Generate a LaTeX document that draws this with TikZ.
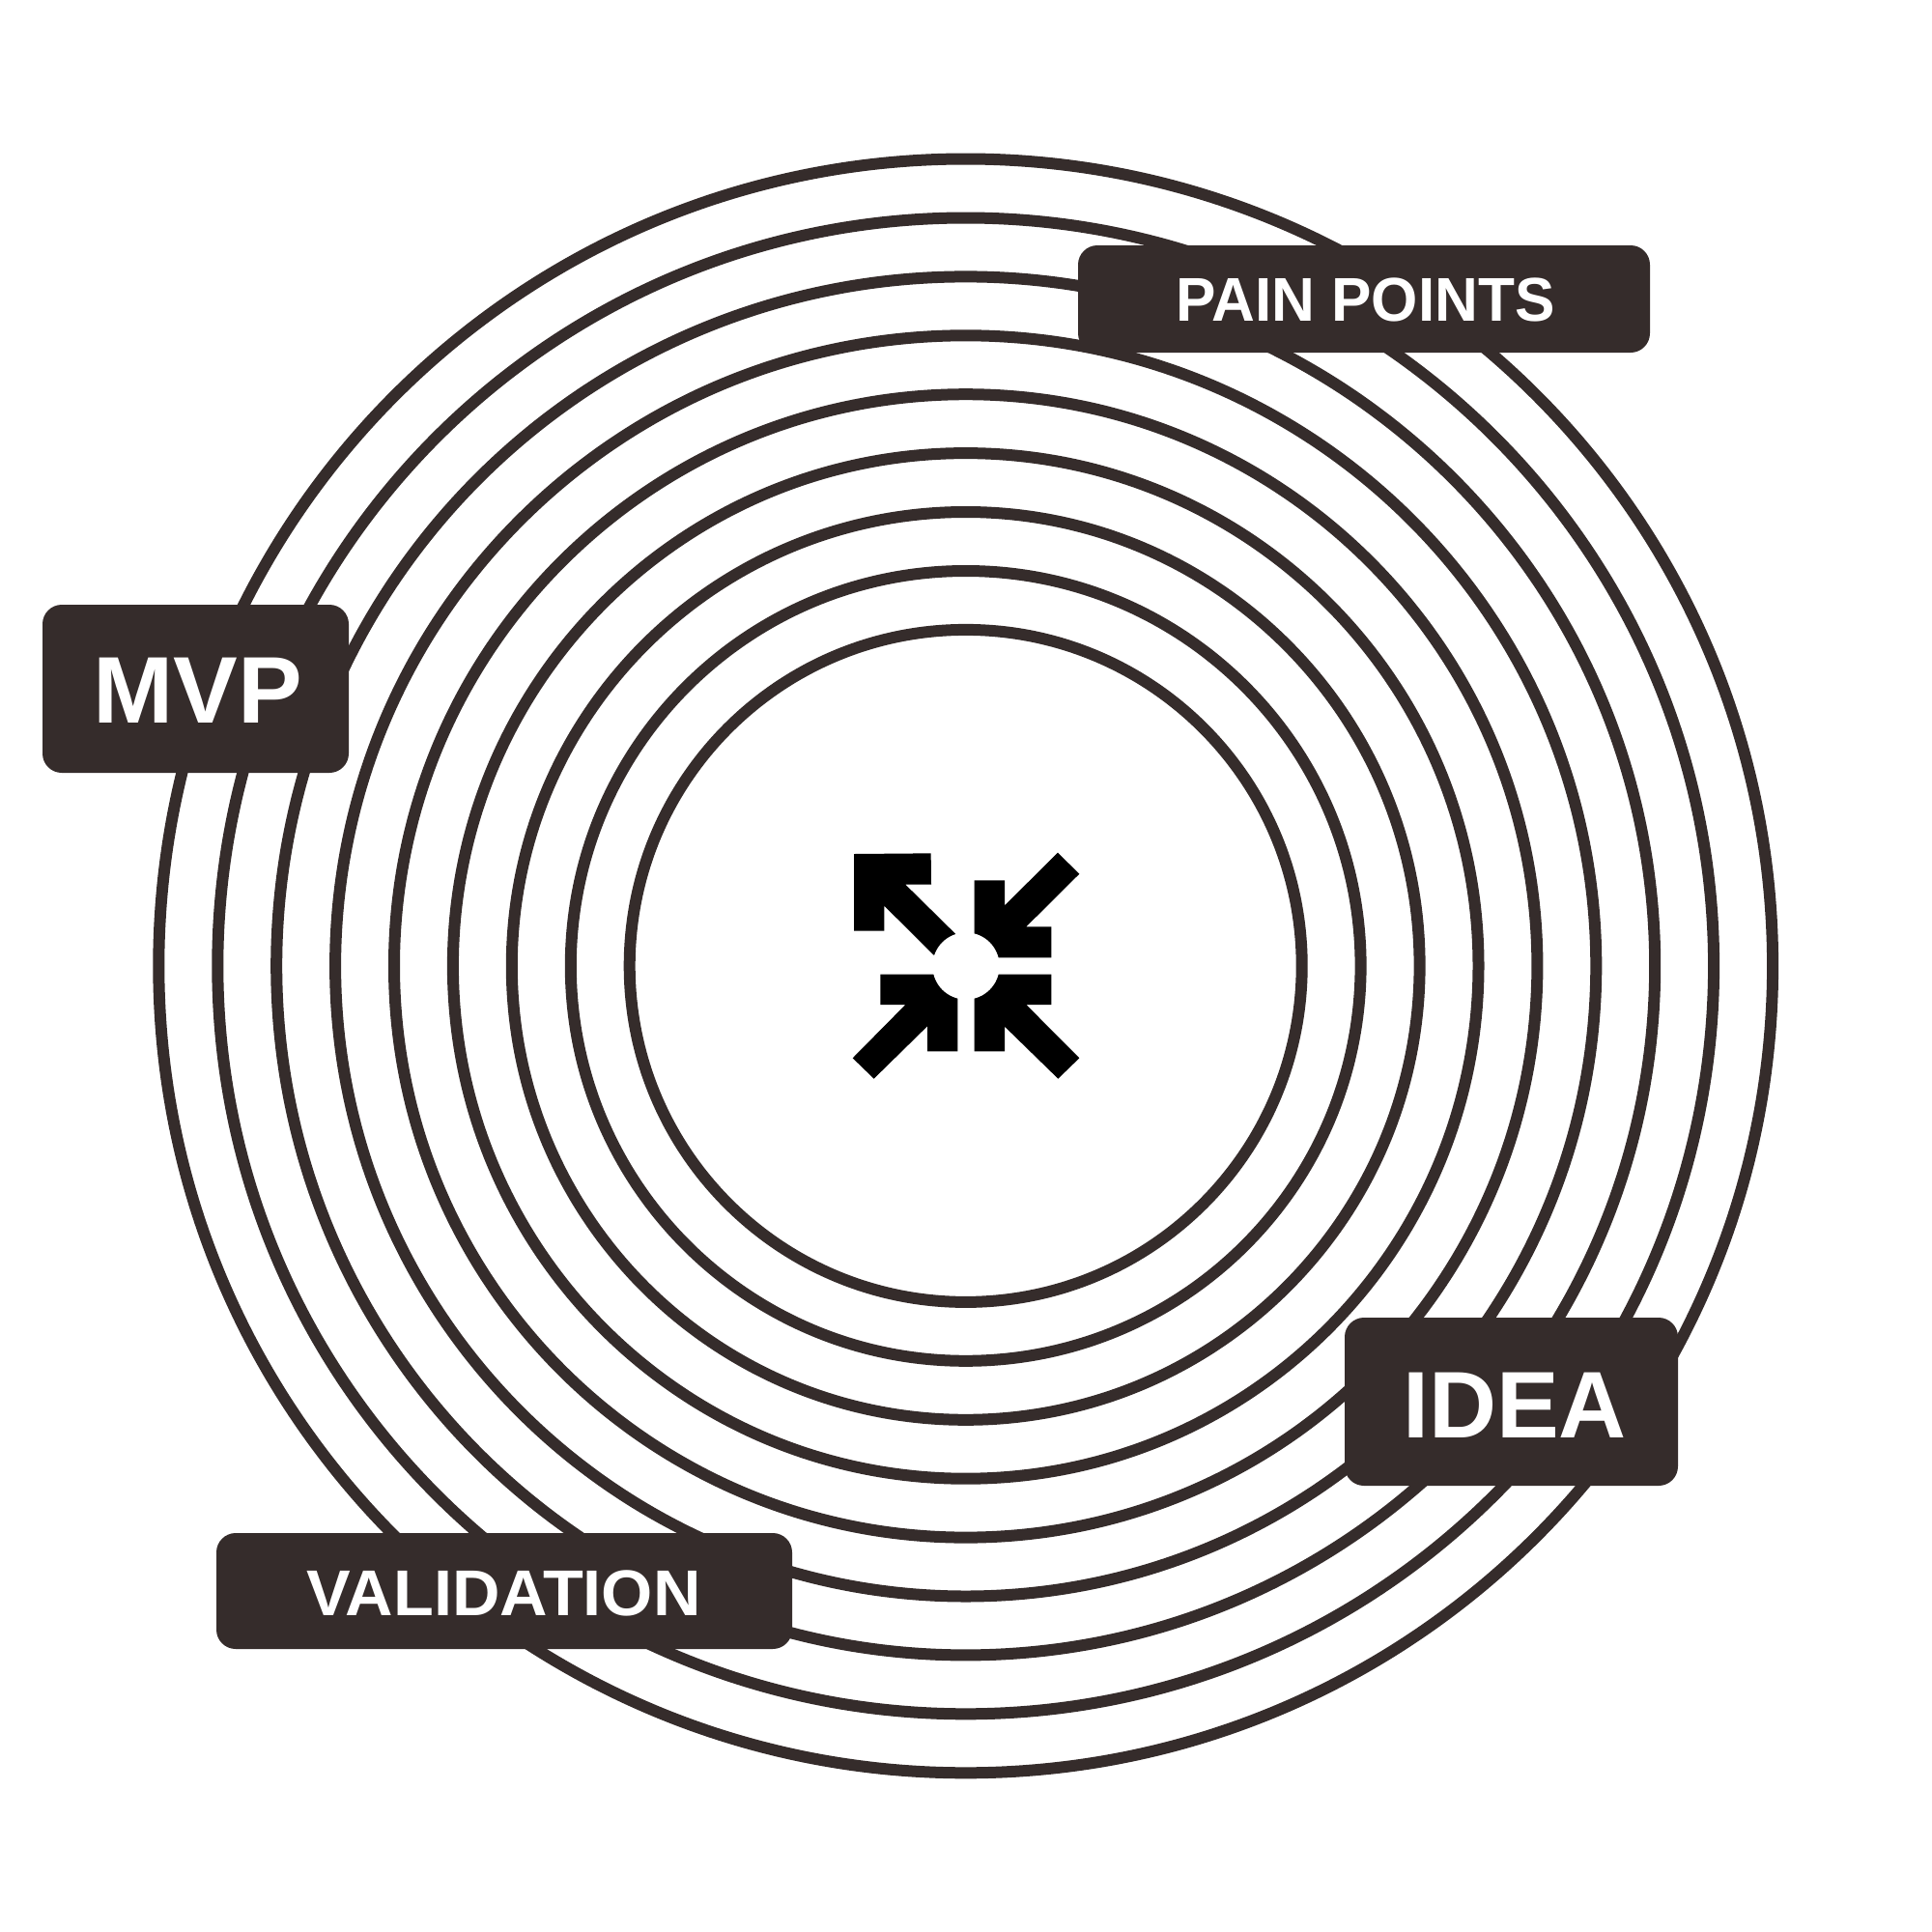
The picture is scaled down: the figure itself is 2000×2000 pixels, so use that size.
\documentclass[tikz,border=0pt]{standalone}
\usepackage{fontspec}
\setmainfont{Liberation Sans}
\definecolor{ink}{HTML}{352C2B}
\tikzset{
  ring/.style={draw=ink,line width=12pt,fill=none},
  tag/.style={fill=ink,inner sep=0pt,rounded corners=20pt,anchor=center},
  taglabel/.style={text=white,inner sep=0pt,font=\bfseries\fontsize{#1}{#1}\selectfont},
  iconpart/.style={fill=black,draw=none}
}
\begin{document}
\begin{tikzpicture}[x=1pt,y=-1pt]
\useasboundingbox[fill=white] (0,0) rectangle (2000,2000);
\foreach \r in {348,408.9,469.9,530.8,591.7,652.6,713.5,774.4,835.4}
  \draw[ring] (999.7,999.9) circle[radius=\r pt];
\begin{scope}[shift={(840,840)},x=0.33333pt,y=-0.33333pt]
  \fill[iconpart] (132,132)--(371,130)--(372,227)--(292,227)--(447,380)--(440,440)--(380,446)--(226,293)--(226,371)--(132,371)--cycle;
  \fill[iconpart] (506,214)--(600,214)--(600,292)--(765,128)--(832,194)--(667,358)--(745,358)--(745,454)--(581,454)--(506,454)--(506,379)--cycle;
  \fill[iconpart] (214,506)--(379,506)--(454,506)--(454,581)--(454,745)--(360,745)--(360,667)--(194,830)--(128,766)--(292,600)--(214,600)--cycle;
  \fill[iconpart] (506,581)--(506,506)--(581,506)--(745,506)--(745,600)--(667,600)--(832,766)--(766,830)--(600,668)--(600,745)--(506,745)--cycle;
  \fill[white] (480,480) circle[radius=104];
\end{scope}
\node[tag,minimum width=592pt,minimum height=111pt] (pain) at (1412,309.5) {};
\node[taglabel=64] (painlabel) at (1413.5,310.5) {\scalebox{0.97}[1]{PAIN POINTS}};
\node[tag,minimum width=317pt,minimum height=174pt] (mvp) at (202.5,713) {};
\node[taglabel=98] (mvplabel) at (204.5,715) {\scalebox{1.02}[1]{MVP}};
\node[tag,minimum width=345pt,minimum height=174pt] (idea) at (1564.5,1451) {};
\node[taglabel=98] (idealabel) at (1568,1454.5) {\scalebox{0.99}[1]{IDEA}};
\node[tag,minimum width=596pt,minimum height=120pt] (validation) at (522,1647) {};
\node[taglabel=67] (validationlabel) at (521.5,1649) {\scalebox{1.022}[1]{VALIDATION}};
\end{tikzpicture}
\end{document}
